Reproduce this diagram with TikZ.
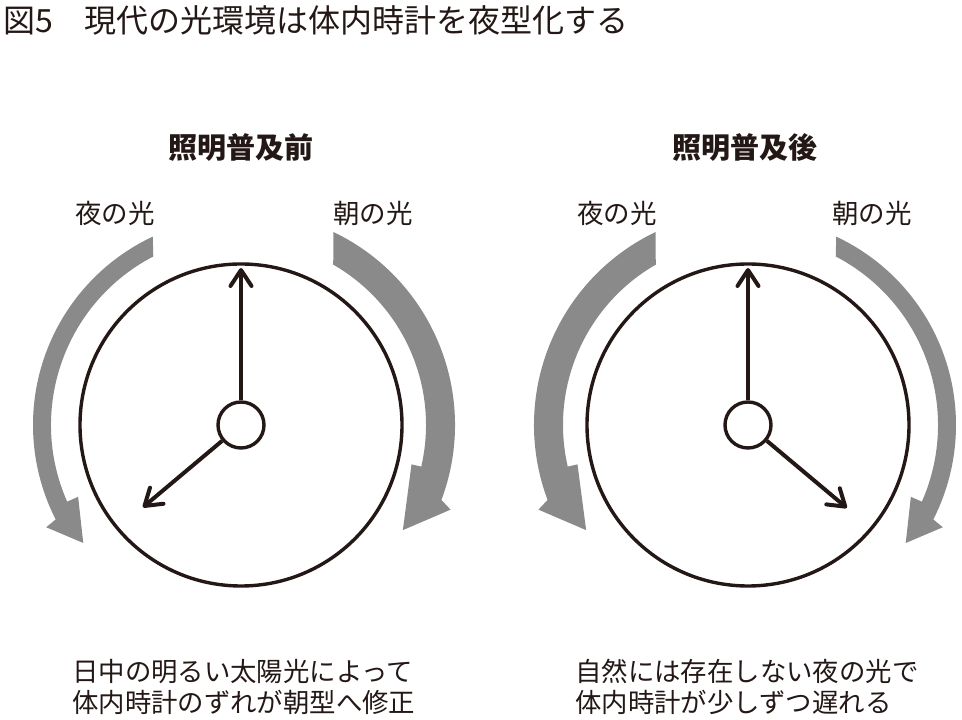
\documentclass[tikz,border=0pt]{standalone}
\usepackage{fontspec}
\setmainfont{Noto Sans CJK JP}
\usepackage{xcolor}
\usetikzlibrary{arrows.meta,positioning}

\definecolor{ink}{HTML}{231815}
\definecolor{arcgray}{HTML}{8A8A8A}

\begin{document}
\begin{tikzpicture}[
  x=1pt, y=1pt,
  dial/.style={circle, draw=ink, line width=3.4pt, minimum size=322pt, inner sep=0pt},
  hub/.style={circle, draw=ink, fill=white, line width=3.4pt, minimum size=46pt, inner sep=0pt},
  hand/.style={draw=ink, line width=4pt, -{Straight Barb[length=16pt, width=21pt, round]}},
  title/.style={font=\fontsize{32}{36}\selectfont, text=ink, anchor=west, inner sep=0pt},
  head/.style={font=\bfseries\fontsize{29}{33}\selectfont, text=ink},
  lbl/.style={font=\fontsize{26.5}{30}\selectfont, text=ink},
  capnote/.style={font=\fontsize{26.4}{31}\selectfont, text=ink, align=left,
              anchor=north west, inner sep=0pt},
  thinarc/.pic={
    \fill[arcgray] (115.1:208) arc[start angle=115.1, end angle=207, radius=208]
      -- (207.7:220) -- (216.8:197) -- (203.8:178) -- (203.8:190)
      arc[start angle=203.8, end angle=117.5, radius=190] -- cycle;
  },
  thickarc/.pic={
    \fill[arcgray] (64.4:214) arc[start angle=64.4, end angle=-20.5, radius=214]
      -- (-22:226) -- (-33:193) -- (-13:175) -- (-13:185)
      arc[start angle=-13, end angle=60.1, radius=185] -- cycle;
  }
]
\useasboundingbox (0,0) rectangle (962,720);

%% Title
\node[title] (title) at (3,700) {図5　現代の光環境は体内時計を夜型化する};

%% Before lighting
\node[head] (headA) at (241,572) {照明普及前};
\node[lbl] (nightA) at (115,507) {夜の光};
\node[lbl] (mornA) at (373,507) {朝の光};
\pic at (241,295) {thinarc};
\pic at (241,295) {thickarc};
\node[dial] (dialA) at (241,295) {};
\node[hub] (hubA) at (241,295) {};
\coordinate (minA) at ([shift={(90:157)}]hubA.center);
\coordinate (hourA) at ([shift={(220:128)}]hubA.center);
\draw[hand] (hubA.north) -- (minA);
\draw[hand] (hubA.220) -- (hourA);
\node[capnote] (capA) at (72,61) {日中の明るい太陽光によって\\体内時計のずれが朝型へ修正};

%% After lighting
\node[head] (headB) at (745,572) {照明普及後};
\node[lbl] (nightB) at (617,507) {夜の光};
\node[lbl] (mornB) at (872,507) {朝の光};
\pic[xscale=-1] at (748,295) {thickarc};
\pic[xscale=-1] at (748,295) {thinarc};
\node[dial] (dialB) at (748,295) {};
\node[hub] (hubB) at (748,295) {};
\coordinate (minB) at ([shift={(90:157)}]hubB.center);
\coordinate (hourB) at ([shift={(-40:129)}]hubB.center);
\draw[hand] (hubB.north) -- (minB);
\draw[hand] (hubB.-40) -- (hourB);
\node[capnote] (capB) at (575,61) {自然には存在しない夜の光で\\体内時計が少しずつ遅れる};

\end{tikzpicture}
\end{document}
